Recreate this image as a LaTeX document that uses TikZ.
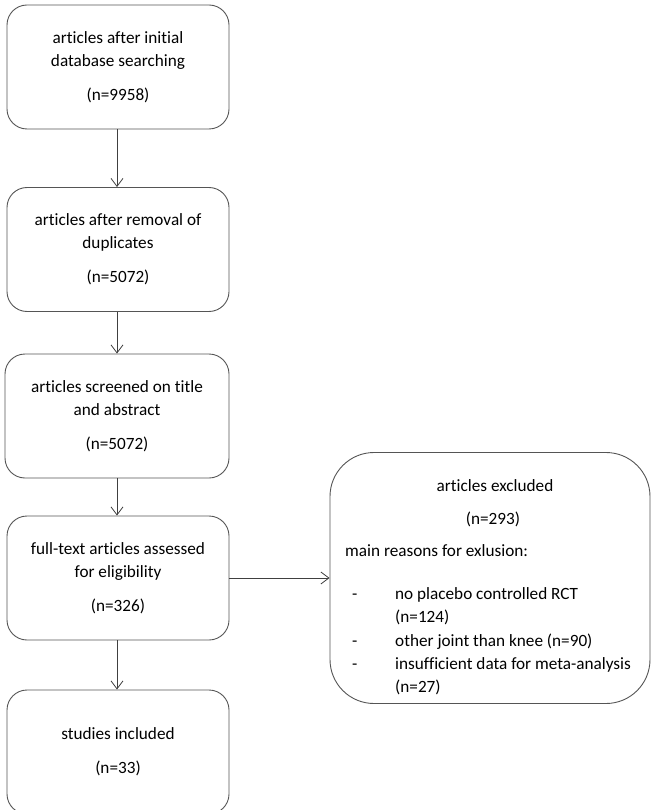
\documentclass[tikz,border=0pt]{standalone}
\usepackage{fontspec}
\setmainfont[Ligatures=NoCommon]{Carlito}
\usetikzlibrary{arrows.meta}
\definecolor{boxline}{HTML}{555555}
\definecolor{arrline}{HTML}{404040}
\tikzset{
  flowbox/.style={draw=boxline, line width=0.9pt, rounded corners=20pt,
    minimum width=222pt, minimum height=124pt, inner sep=0pt,
    align=center, font=\fontsize{17.2}{23}\selectfont},
  bigbox/.style={draw=boxline, line width=0.9pt, rounded corners=44pt,
    minimum width=320pt, minimum height=251pt, inner sep=0pt},
  txt/.style={inner sep=0pt, font=\fontsize{17.2}{23}\selectfont},
  flowarrow/.style={draw=arrline, line width=0.8pt, -{Straight Barb[length=8pt,width=12pt]}}
}
\begin{document}
\begin{tikzpicture}[x=1pt,y=-1pt]
\useasboundingbox (0,0) rectangle (652,810);
\node[flowbox] (b1) at (118,67) {articles after initial\\database searching\\[11pt](n=9958)};
\node[flowbox] (b2) at (118,249.5) {articles after removal of\\duplicates\\[11pt](n=5072)};
\node[flowbox, minimum width=224pt] (b3) at (117,416) {articles screened on title\\and abstract\\[11pt](n=5072)};
\node[flowbox] (b4) at (118,578) {full-text articles assessed\\for eligibility\\[11pt](n=326)};
\node[flowbox] (b5) at (118,752) {studies included\\[11pt](n=33)};
\node[bigbox] (ex) at (490,578) {};
\node[txt, anchor=base] (e1) at (495,491) {articles excluded};
\node[txt, anchor=base] (e2) at (493,524) {(n=293)};
\node[txt, anchor=base west] (e3) at (345,556) {main reasons for exlusion:};
\node[txt, anchor=base west] (d1) at (352,599) {-};
\node[txt, anchor=base west] (r1) at (395,599) {no placebo controlled RCT};
\node[txt, anchor=base west] (r1b) at (395,622) {(n=124)};
\node[txt, anchor=base west] (d2) at (352,646) {-};
\node[txt, anchor=base west] (r2) at (395,646) {other joint than knee (n=90)};
\node[txt, anchor=base west] (d3) at (352,669) {-};
\node[txt, anchor=base west] (r3) at (395,669) {insufficient data for meta-analysis};
\node[txt, anchor=base west] (r3b) at (395,692) {(n=27)};
\draw[flowarrow] (b1.south -| 117,0) -- (b2.north -| 117,0);
\draw[flowarrow] (b2.south -| 117,0) -- (b3.north -| 117,0);
\draw[flowarrow] (b3.south -| 117,0) -- (b4.north -| 117,0);
\draw[flowarrow] (b4.south -| 117,0) -- (b5.north -| 117,0);
\draw[flowarrow] (b4.east) -- (ex.west |- b4.east);
\end{tikzpicture}
\end{document}
